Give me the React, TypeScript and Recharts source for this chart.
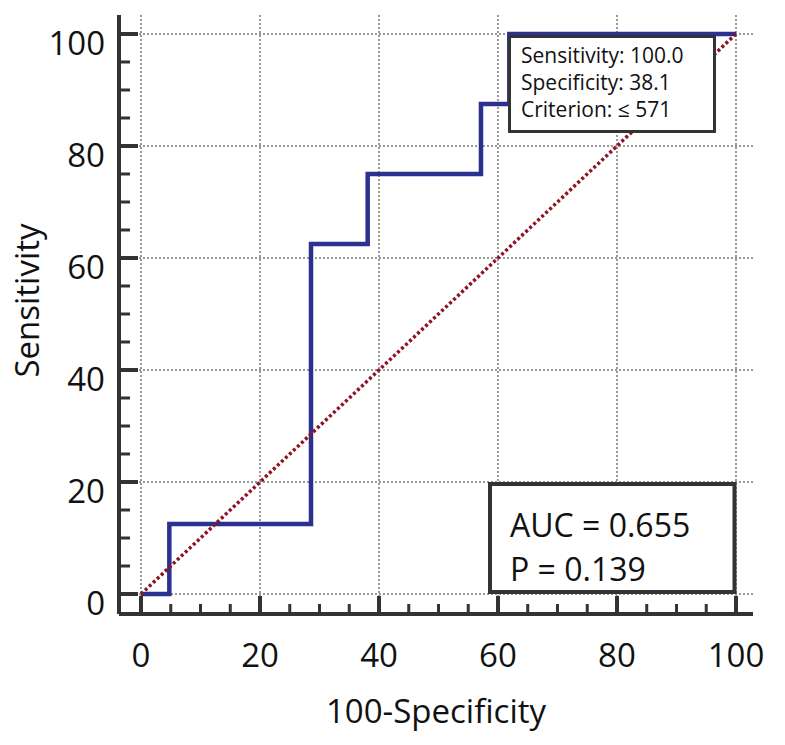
import React from "react";
import { LineChart, Line, XAxis, YAxis, CartesianGrid } from "recharts";

// ROC curve points (100-Specificity, Sensitivity)
const fprValues = [0, 4.76, 28.57, 38.1, 57.14, 61.9, 100];
const tprValues = [0, 12.5, 62.5, 75, 87.5, 100, 100];
const diagonalValues = [0, 100];

const majorTicks = [0, 20, 40, 60, 80, 100];
const allTicks = [0, 5, 10, 15, 20, 25, 30, 35, 40, 45, 50, 55, 60, 65, 70, 75, 80, 85, 90, 95, 100];

const criterionLines = ["Sensitivity: 100.0", "Specificity: 38.1", "Criterion: \u2264 571"];
const statLines = ["AUC = 0.655", "P = 0.139"];

const rocData = fprValues.map((x, i) => ({ x, y: tprValues[i] }));
const diagonalData = diagonalValues.map((v) => ({ x: v, y: v }));

const FONT = "'Open Sans', sans-serif";
const AXIS = "#333";

function XTick({ x, y, payload }: any) {
  const major = payload.value % 20 === 0;
  return (
    <g>
      <line x1={x} x2={x} y1={y} y2={y - (major ? 18 : 10)} stroke={AXIS} strokeWidth={major ? 4 : 3} />
      {major && (
        <text x={x} y={y + 53} textAnchor="middle" fontSize={33} fill="#111" fontFamily={FONT}>
          {payload.value}
        </text>
      )}
    </g>
  );
}

function YTick({ x, y, payload }: any) {
  const major = payload.value % 20 === 0;
  return (
    <g>
      <line x1={x} x2={x + (major ? 19 : 11)} y1={y} y2={y} stroke={AXIS} strokeWidth={major ? 4 : 3} />
      {major && (
        <text x={x - 14} y={y + 21} textAnchor="end" fontSize={33} fill="#111" fontFamily={FONT}>
          {payload.value}
        </text>
      )}
    </g>
  );
}

function YTitle({ viewBox }: any) {
  const cx = viewBox.x + 39;
  const cy = viewBox.y + viewBox.height / 2 - 14;
  return (
    <text x={cx} y={cy} transform={`rotate(-90 ${cx} ${cy})`} textAnchor="middle" fontSize={33} fill="#111" fontFamily={FONT}>
      Sensitivity
    </text>
  );
}

function XTitle({ viewBox }: any) {
  const cx = viewBox.x + viewBox.width / 2;
  const by = viewBox.y + 109;
  return (
    <text x={cx} y={by} textAnchor="middle" fontSize={33} fill="#111" fontFamily={FONT}>
      100-Specificity
    </text>
  );
}

export default function App() {
  return (
    <div style={{ position: "absolute", left: 0, top: 0, width: 785, height: 745, background: "#fff" }}>
      <LineChart width={785} height={745} margin={{ top: 15, right: 32, left: 0, bottom: 0 }} style={{ fontFamily: FONT }}>
        <CartesianGrid
          stroke="#999"
          strokeWidth={2}
          strokeDasharray="2 2"
          horizontalValues={majorTicks}
          verticalValues={majorTicks}
        />
        <XAxis
          type="number"
          dataKey="x"
          domain={[-3.7, 102.86]}
          allowDataOverflow
          ticks={allTicks}
          interval={0}
          tickSize={0}
          tickMargin={0}
          tickLine={false}
          axisLine={{ stroke: AXIS, strokeWidth: 4 }}
          tick={<XTick />}
          height={131}
          label={{ content: <XTitle /> }}
        />
        <YAxis
          type="number"
          dataKey="y"
          domain={[-3.57, 103.39]}
          allowDataOverflow
          ticks={allTicks}
          interval={0}
          tickSize={0}
          tickMargin={0}
          tickLine={false}
          axisLine={{ stroke: AXIS, strokeWidth: 4 }}
          tick={<YTick />}
          width={119}
          label={{ content: <YTitle /> }}
        />
        <Line
          data={rocData}
          dataKey="y"
          type="stepAfter"
          stroke="#2b3190"
          strokeWidth={4.5}
          dot={false}
          activeDot={false}
          isAnimationActive={false}
        />
        <Line
          data={diagonalData}
          dataKey="y"
          type="linear"
          stroke="#8e1424"
          strokeWidth={3.5}
          strokeDasharray="3 2.5"
          dot={false}
          activeDot={false}
          isAnimationActive={false}
        />
      </LineChart>
      <svg width={785} height={745} style={{ position: "absolute", left: 0, top: 0, pointerEvents: "none" }}>
        <rect x={509.5} y={36.5} width={205} height={95} fill="#fff" stroke={AXIS} strokeWidth={3} />
        {criterionLines.map((t, i) => (
          <text key={t} x={521} y={63 + i * 27} fontSize={21} fill="#111" fontFamily={FONT}>
            {t}
          </text>
        ))}
        <rect x={490} y={484} width={244.5} height={108} fill="#fff" stroke={AXIS} strokeWidth={4} />
        {statLines.map((t, i) => (
          <text key={t} x={510} y={537 + i * 44} fontSize={32} fill="#111" fontFamily={FONT}>
            {t}
          </text>
        ))}
      </svg>
    </div>
  );
}
